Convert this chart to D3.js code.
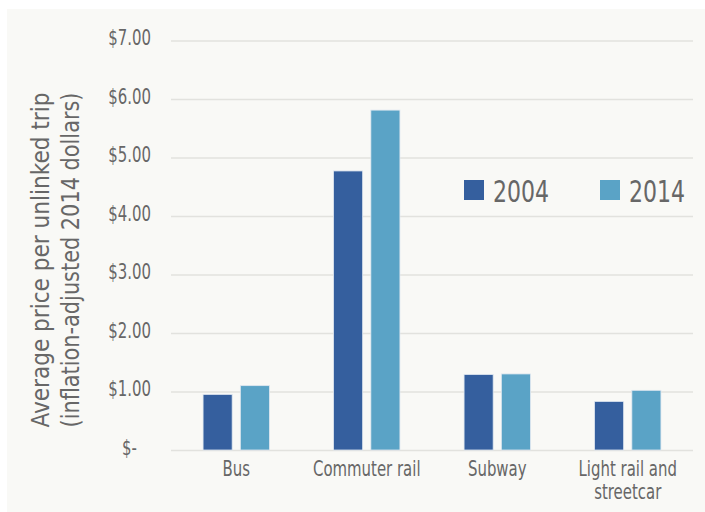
<!DOCTYPE html>
<html>
<head>
<meta charset="utf-8">
<script src="https://cdnjs.cloudflare.com/ajax/libs/d3/7.8.5/d3.min.js"></script>
<style>
html,body{margin:0;padding:0;background:#ffffff;}
svg{display:block;}
text{font-family:"DejaVu Sans Condensed","Liberation Sans Narrow",sans-serif;fill:#676767;}
</style>
</head>
<body>
<svg id="chart" width="705" height="512"></svg>
<script>
const categories = [["Bus"], ["Commuter rail"], ["Subway"], ["Light rail and", "streetcar"]];
const categoryKeys = ["Bus", "Commuter rail", "Subway", "Light rail and streetcar"];
const years = ["2004", "2014"];
const values2004 = [0.95, 4.77, 1.29, 0.83];
const values2014 = [1.10, 5.81, 1.30, 1.02];
const yTicks = [0, 1, 2, 3, 4, 5, 6, 7];
const yTickLabels = ["$-", "$1.00", "$2.00", "$3.00", "$4.00", "$5.00", "$6.00", "$7.00"];
const colors = ["#355f9e", "#5aa3c6"];
const yTitle = ["Average price per unlinked trip", "(inflation-adjusted 2014 dollars)"];

const CONDENSE = 0.79;
function condense(sel) {
  sel.each(function () {
    const L = this.getComputedTextLength();
    d3.select(this).attr("textLength", L * CONDENSE).attr("lengthAdjust", "spacingAndGlyphs");
  });
}

const svg = d3.select("#chart");
svg.append("rect").attr("x", 7).attr("y", 9).attr("width", 698).attr("height", 503).attr("fill", "#f9f9f6");

const pLeft = 171, pRight = 693, pTop = 40.5, pBottom = 450;
const x0 = d3.scaleBand().domain(categoryKeys).range([pLeft, pRight]).paddingInner(0).paddingOuter(0);
const x1 = d3.scaleBand().domain(years).range([0, x0.bandwidth()]).paddingInner(0.22).paddingOuter(0.86);
const y = d3.scaleLinear().domain([0, 7]).range([pBottom, pTop]);

// gridlines + tick labels
const yAxis = d3.axisLeft(y).tickValues(yTicks).tickSize(-(pRight - pLeft)).tickPadding(20)
  .tickFormat((d, i) => yTickLabels[i]);
const gy = svg.append("g").attr("transform", `translate(${pLeft},0)`).call(yAxis);
gy.select(".domain").remove();
gy.selectAll(".tick line").attr("stroke", "#e2e2de").attr("stroke-width", 1.5);
gy.selectAll(".tick text").attr("font-size", 21).attr("dy", "0.2em").style("fill", "#676767")
  .style("font-family", "DejaVu Sans Condensed, sans-serif")
  .attr("x", d => d === 0 ? -34 : -20);
condense(gy.selectAll(".tick text"));

// bars
const series = [values2004, values2014];
const rows = categoryKeys.map((c, i) => ({c, vals: years.map((yr, j) => ({yr, v: series[j][i], col: colors[j]}))}));
const groups = svg.append("g").selectAll("g").data(rows).join("g")
  .attr("transform", d => `translate(${x0(d.c)},0)`);
groups.selectAll("rect").data(d => d.vals).join("rect")
  .attr("x", d => x1(d.yr)).attr("width", x1.bandwidth())
  .attr("y", d => y(d.v)).attr("height", d => y(0) - y(d.v))
  .attr("fill", d => d.col).attr("stroke", "#dfe7f0").attr("stroke-width", 0.8);

// category labels
const xl = svg.append("g");
categories.forEach((lines, i) => {
  const cx = x0(categoryKeys[i]) + x0.bandwidth() / 2;
  lines.forEach((ln, k) => {
    const t = xl.append("text").attr("text-anchor", "middle").attr("font-size", 21)
      .attr("x", cx).attr("y", 476 + k * 23).text(ln);
    condense(t);
  });
});

// y title
yTitle.forEach((ln, k) => svg.append("text")
  .attr("transform", `translate(${k === 0 ? 49 : 79},260) rotate(-90)`)
  .attr("text-anchor", "middle").attr("font-size", 25)
  .attr("textLength", 335).attr("lengthAdjust", "spacingAndGlyphs").text(ln));

// legend
const legendX = [464, 600];
const lg = svg.append("g");
years.forEach((yr, i) => {
  lg.append("rect").attr("x", legendX[i]).attr("y", 180).attr("width", 20).attr("height", 20).attr("fill", colors[i]);
  const t = lg.append("text").attr("x", legendX[i] + 29).attr("y", 202).attr("font-size", 31).text(yr);
  condense(t);
});
</script>
</body>
</html>
